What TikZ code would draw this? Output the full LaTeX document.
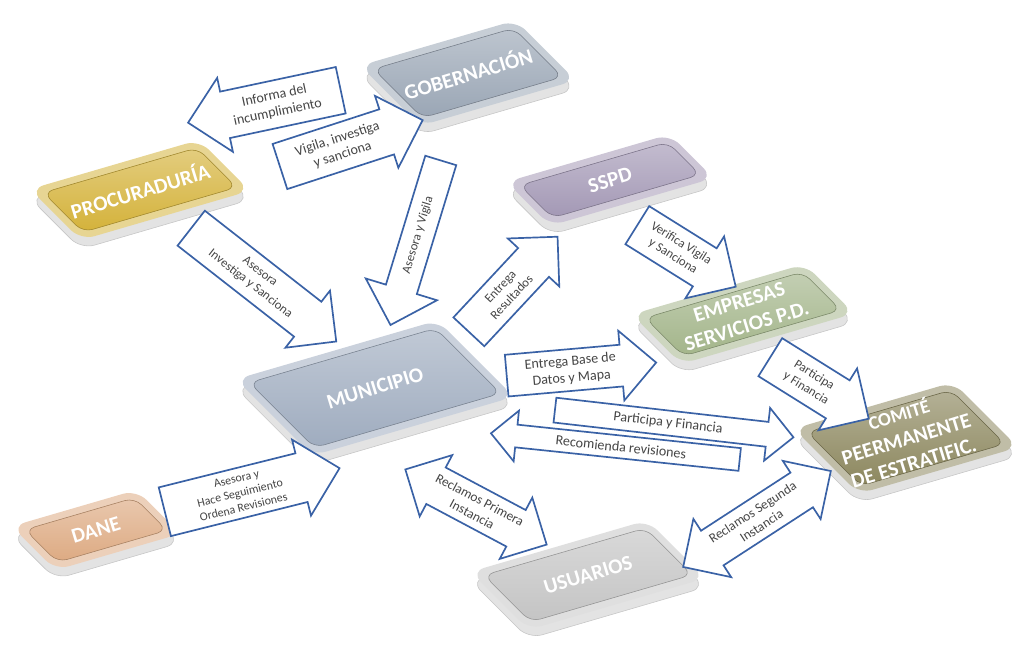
\documentclass[tikz,border=0pt]{standalone}
\usepackage{fontspec}
\setmainfont{Carlito}
\usetikzlibrary{shapes.arrows}

\definecolor{arrowblue}{HTML}{3A62A6}
\definecolor{labelgray}{HTML}{454545}
\definecolor{gobcol}{HTML}{9AA6B5}
\definecolor{proccol}{HTML}{D4B23A}
\definecolor{sspdcol}{HTML}{A398B5}
\definecolor{empcol}{HTML}{A3B58A}
\definecolor{muncol}{HTML}{9FACBF}
\definecolor{comcol}{HTML}{8C875E}
\definecolor{danecol}{HTML}{DDAA82}
\definecolor{usucol}{HTML}{C4C4C4}

\tikzset{
  platetext/.style={text=white, font=\bfseries\fontsize{15}{18}\selectfont, align=center, rotate=17},
  blockarrow/.style={single arrow, draw=arrowblue, line width=1.2pt, fill=white,
    text=labelgray, align=center, font=\fontsize{10}{12}\selectfont,
    inner xsep=2pt, inner ysep=6pt, single arrow head extend=10pt},
  twoway/.style={double arrow, draw=arrowblue, line width=1.2pt, fill=white,
    text=labelgray, align=center, font=\fontsize{9.5}{11.5}\selectfont,
    inner xsep=2pt, inner ysep=5pt, double arrow head extend=10pt},
}

\begin{document}
\begin{tikzpicture}[x=0.025cm, y=-0.025cm]
  \useasboundingbox (0,0) rectangle (1015,650);

  % boxes
  \foreach \nm/\x/\y/\w/\h/\col/\txt in {
      gob/468/73/162/85/gobcol/GOBERNACIÓN,
      proc/140/190/176/72/proccol/PROCURADURÍA,
      sspd/610/180/170/62/sspdcol/SSPD,
      emp/743/314/180/70/empcol/{EMPRESAS\\SERVICIOS P.D.},
      mun/375/388/210/108/muncol/MUNICIPIO,
      com/906/438/166/92/comcol/{\fontsize{13.5}{15}\selectfont COMITÉ\\PEERMANENTE\\DE ESTRATIFIC.},
      dane/96/530/130/62/danecol/DANE,
      usu/588/575/184/82/usucol/USUARIOS} {
    \begin{scope}[shift={(\x,\y)}]
      \begin{scope}[shift={(0,9)}, cm={0.96,0.28,-0.707,0.707,(0,0)}]
        \fill[gray!22, rounded corners=10pt] (-\w/2,-\h/2) rectangle (\w/2,\h/2);
        \draw[gray!45, rounded corners=10pt] (-\w/2,-\h/2) rectangle (\w/2,\h/2);
      \end{scope}
      \begin{scope}[cm={0.96,0.28,-0.707,0.707,(0,0)}]
        \fill[\col!55!white, rounded corners=10pt] (-\w/2,-\h/2) rectangle (\w/2,\h/2);
        \shade[top color=\col!65!white, bottom color=\col, rounded corners=7pt]
          (-\w/2+8,-\h/2+8) rectangle (\w/2-8,\h/2-8);
        \draw[\col!75!black, rounded corners=7pt] (-\w/2+8,-\h/2+8) rectangle (\w/2-8,\h/2-8);
      \end{scope}
    \end{scope}
    \node[platetext] (\nm) at (\x,\y) {\txt};
  }

  % arrows gobernacion / procuraduria
  \node[blockarrow, rotate=12, shape border rotate=180, minimum height=3.9cm] (informa) at (276,104) {Informa del\\incumplimiento};
  \node[blockarrow, rotate=18, minimum height=3.75cm] (vigila) at (340,147) {Vigila, investiga\\y sanciona};
  \node[blockarrow, rotate=-38, minimum height=4.6cm, font=\fontsize{9}{11}\selectfont] (asesorainv) at (255,278) {Asesora\\Investiga y Sanciona};
  \node[blockarrow, rotate=73, shape border rotate=180, minimum height=4.3cm, inner ysep=7pt, single arrow head extend=15pt, font=\fontsize{9}{11}\selectfont] (asesoravig) at (418,235) {Asesora y Vigila};

  % arrows municipio / sspd / empresas
  \node[blockarrow, rotate=47, minimum height=3.25cm, font=\fontsize{9}{11}\selectfont] (resultados) at (506,292) {Entrega\\Resultados};
  \node[blockarrow, rotate=5, minimum height=3.75cm, inner ysep=4pt] (basedatos) at (571,370) {Entrega Base de\\Datos y Mapa};
  \node[blockarrow, rotate=-32, minimum height=2.9cm, font=\fontsize{9}{11}\selectfont] (verifica) at (677,250) {Verifica Vigila\\y Sanciona};
  \node[blockarrow, rotate=-32, minimum height=2.9cm, font=\fontsize{9}{11}\selectfont] (participaemp) at (810,382) {Participa\\y Financia};

  % arrows comite
  \node[blockarrow, rotate=-6.5, minimum height=6cm, inner ysep=4pt] (participa) at (668,423) {Participa y Financia};
  \node[blockarrow, rotate=-6, shape border rotate=180, minimum height=6.25cm, inner ysep=4pt] (recomienda) at (621,447) {Recomienda revisiones};

  % arrows dane / usuarios
  \node[blockarrow, rotate=14, minimum height=4.5cm, inner ysep=4pt, font=\fontsize{8.5}{10.5}\selectfont] (seguimiento) at (240,493) {Asesora y\\Hace Seguimiento\\Ordena Revisiones};
  \node[twoway, rotate=-28, minimum height=4cm] (reclamos1) at (476,507) {Reclamos Primera\\Instancia};
  \node[twoway, rotate=33, minimum height=4.4cm] (reclamos2) at (757,519) {Reclamos Segunda\\Instancia};
\end{tikzpicture}
\end{document}
